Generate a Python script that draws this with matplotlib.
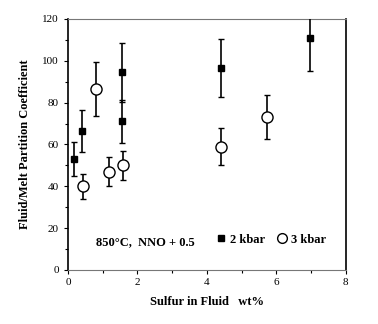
import matplotlib.pyplot as plt
from matplotlib.ticker import MultipleLocator
from matplotlib.lines import Line2D

plt.rcParams['font.family'] = ['Liberation Serif', 'DejaVu Serif']

# 2 kbar runs (filled squares)
s2_x = [0.17, 0.40, 1.55, 1.55, 4.40, 6.96]
s2_y = [53, 66.5, 94.5, 71, 96.5, 111]
s2_err = [8, 10, 14, 10.5, 14, 16]

# 3 kbar runs (open circles)
s3_x = [0.42, 0.80, 1.18, 1.57, 4.40, 5.73]
s3_y = [40, 86.5, 47, 50, 59, 73]
s3_err = [6, 13, 7, 7, 9, 10.5]

fig = plt.figure(figsize=(3.78, 3.24), dpi=100)
ax = fig.add_axes([0.180, 0.1667, 0.735, 0.7747])

ax.errorbar(s2_x, s2_y, yerr=s2_err, fmt='s', color='black', ms=5,
            capsize=2, elinewidth=1.2, capthick=1, zorder=3)
ax.errorbar(s3_x, s3_y, yerr=s3_err, fmt='o', color='black', mfc='white',
            mec='black', ms=8, capsize=2, elinewidth=1.2, capthick=1, zorder=3)

ax.set_xlim(0, 8)
ax.set_ylim(0, 120)
ax.xaxis.set_major_locator(MultipleLocator(2))
ax.xaxis.set_minor_locator(MultipleLocator(1))
ax.yaxis.set_major_locator(MultipleLocator(20))
ax.yaxis.set_minor_locator(MultipleLocator(10))
ax.tick_params(which='both', direction='out', labelsize=8, width=0.8)
ax.tick_params(which='major', length=3)
ax.tick_params(which='minor', length=2)
ax.tick_params(axis='x', pad=3)

for side in ['top', 'bottom']:
    ax.spines[side].set_color('#777777')
for side in ['left', 'right']:
    ax.spines[side].set_color('black')
    ax.spines[side].set_linewidth(1.2)

ax.set_xlabel('Sulfur in Fluid   wt%', fontsize=9, fontweight='bold', labelpad=6)
ax.set_ylabel('Fluid/Melt Partition Coefficient', fontsize=9, fontweight='bold', labelpad=8)

ax.text(0.10, 0.11, '850°C,  NNO + 0.5', transform=ax.transAxes,
        fontsize=9, fontweight='bold', va='center')

handles = [
    Line2D([], [], marker='s', ls='none', color='black', ms=4),
    Line2D([], [], marker='o', ls='none', mfc='white', mec='black', ms=7),
]
ax.legend(handles, ['2 kbar', '3 kbar'], loc='center left',
          bbox_to_anchor=(0.515, 0.12), ncol=2, frameon=False,
          handlelength=0.6, handletextpad=0.4, columnspacing=1.1,
          borderpad=0, prop={'size': 9, 'weight': 'bold'})

fig.savefig('out.png', dpi=100)
